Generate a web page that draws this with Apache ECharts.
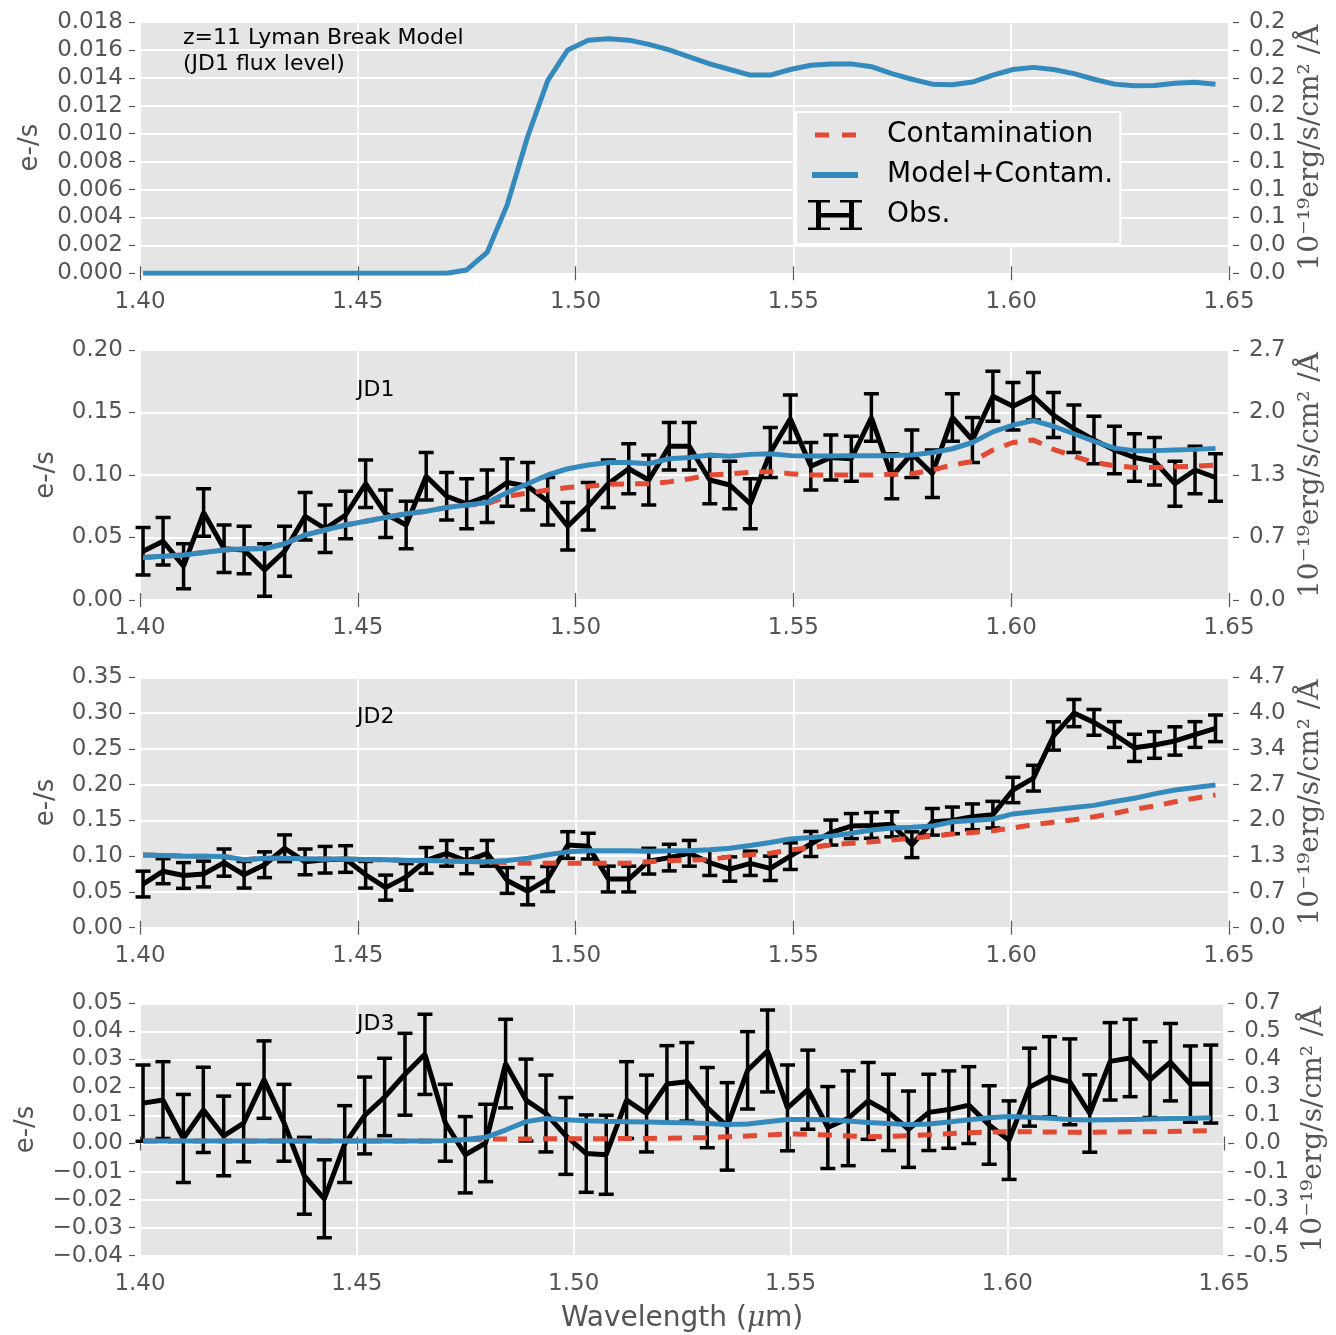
<!DOCTYPE html>
<html>
<head>
<meta charset="utf-8">
<script src="https://cdn.jsdelivr.net/npm/echarts@6/dist/echarts.min.js"></script>
<style>
  html, body { margin: 0; padding: 0; background: #fff; }
  #chart { width: 1336px; height: 1335px; }
</style>
</head>
<body>
<div id="chart"></div>
<script>
// wavelength grid (micron), shared by every panel
var wavelength = [
  1.4007, 1.4053, 1.4100, 1.4146, 1.4193, 1.4239, 1.4286, 1.4332, 1.4379, 1.4425,
  1.4472, 1.4518, 1.4564, 1.4611, 1.4657, 1.4704, 1.4750, 1.4797, 1.4843, 1.4890,
  1.4936, 1.4982, 1.5029, 1.5075, 1.5122, 1.5168, 1.5215, 1.5261, 1.5308, 1.5354,
  1.5401, 1.5447, 1.5493, 1.5540, 1.5586, 1.5633, 1.5679, 1.5726, 1.5772, 1.5819,
  1.5865, 1.5911, 1.5958, 1.6004, 1.6051, 1.6097, 1.6144, 1.6190, 1.6237, 1.6283,
  1.6329, 1.6376, 1.6422, 1.6469
];

// z=11 Lyman break model at JD1 flux level (e-/s)
var lymanModel = [
  0, 0, 0, 0, 0, 0, 0, 0, 0, 0,
  0, 0, 0, 0, 0, 0, 0.00024, 0.0015, 0.0049, 0.0098,
  0.0138, 0.0160, 0.0167, 0.0168, 0.0167, 0.0164, 0.0160, 0.0155, 0.0150, 0.0146,
  0.0142, 0.0142, 0.0146, 0.0149, 0.0150, 0.0150, 0.0148, 0.0143, 0.0139, 0.01355,
  0.0135, 0.0137, 0.0142, 0.0146, 0.01475, 0.0146, 0.0143, 0.0139, 0.01355, 0.01343,
  0.01345, 0.01362, 0.01368, 0.01354
];

// JD1
var jd1Flux = [
  0.039, 0.047, 0.027, 0.070, 0.041, 0.040, 0.024, 0.039, 0.067, 0.057,
  0.068, 0.093, 0.069, 0.060, 0.099, 0.083, 0.077, 0.083, 0.094, 0.091,
  0.079, 0.059, 0.075, 0.093, 0.105, 0.096, 0.123, 0.123, 0.096, 0.092,
  0.077, 0.118, 0.145, 0.107, 0.114, 0.113, 0.146, 0.099, 0.117, 0.101,
  0.146, 0.128, 0.163, 0.155, 0.163, 0.148, 0.137, 0.128, 0.120, 0.114,
  0.111, 0.093, 0.104, 0.098
];
var jd1Err = [
  0.019, 0.019, 0.018, 0.019, 0.019, 0.019, 0.021, 0.020, 0.019, 0.019,
  0.019, 0.019, 0.019, 0.019, 0.019, 0.019, 0.020, 0.021, 0.019, 0.019,
  0.019, 0.019, 0.019, 0.019, 0.020, 0.020, 0.019, 0.019, 0.019, 0.019,
  0.020, 0.020, 0.019, 0.019, 0.018, 0.018, 0.019, 0.018, 0.019, 0.019,
  0.019, 0.018, 0.020, 0.019, 0.019, 0.018, 0.019, 0.019, 0.019, 0.019,
  0.019, 0.018, 0.019, 0.019
];
var jd1Contam = [
  0.034, 0.035, 0.036, 0.038, 0.040, 0.041, 0.041, 0.045, 0.052, 0.056,
  0.060, 0.063, 0.066, 0.069, 0.071, 0.074, 0.076, 0.077, 0.083, 0.0855,
  0.088, 0.090, 0.091, 0.0925, 0.093, 0.093, 0.0945, 0.097, 0.100, 0.101,
  0.102, 0.1027, 0.101, 0.100, 0.100, 0.100, 0.100, 0.1005, 0.101, 0.104,
  0.108, 0.111, 0.120, 0.126, 0.128, 0.1205, 0.115, 0.110, 0.1075, 0.106,
  0.106, 0.1066, 0.107, 0.108
];
var jd1Model = [
  0.034, 0.035, 0.036, 0.038, 0.040, 0.041, 0.041, 0.045, 0.052, 0.056,
  0.060, 0.063, 0.066, 0.069, 0.071, 0.074, 0.076, 0.078, 0.086, 0.093,
  0.100, 0.105, 0.108, 0.110, 0.110, 0.109, 0.113, 0.114, 0.116, 0.115,
  0.1165, 0.117, 0.1155, 0.1152, 0.1152, 0.1155, 0.1155, 0.1155, 0.116, 0.118,
  0.121, 0.126, 0.1345, 0.140, 0.1435, 0.139, 0.133, 0.127, 0.1215, 0.1195,
  0.1195, 0.120, 0.1205, 0.1213
];

// JD2
var jd2Flux = [
  0.061, 0.079, 0.073, 0.075, 0.091, 0.074, 0.088, 0.111, 0.092, 0.095,
  0.096, 0.074, 0.056, 0.071, 0.094, 0.104, 0.093, 0.104, 0.066, 0.051,
  0.068, 0.1156, 0.114, 0.068, 0.068, 0.093, 0.098, 0.104, 0.091, 0.082,
  0.090, 0.083, 0.100, 0.117, 0.133, 0.142, 0.143, 0.1445, 0.116, 0.148,
  0.150, 0.155, 0.158, 0.1925, 0.209, 0.268, 0.300, 0.287, 0.270, 0.2514,
  0.2554, 0.261, 0.270, 0.2787
];
var jd2Err = [
  0.018, 0.0175, 0.018, 0.018, 0.019, 0.0186, 0.018, 0.0187, 0.018, 0.0186,
  0.0186, 0.0186, 0.0175, 0.0186, 0.018, 0.018, 0.0175, 0.018, 0.018, 0.019,
  0.0175, 0.0186, 0.018, 0.018, 0.018, 0.018, 0.0186, 0.018, 0.018, 0.017,
  0.017, 0.017, 0.0186, 0.0175, 0.0175, 0.0175, 0.018, 0.0175, 0.018, 0.0186,
  0.0186, 0.018, 0.0186, 0.0177, 0.018, 0.0198, 0.019, 0.018, 0.018, 0.019,
  0.0186, 0.0198, 0.018, 0.0186
];
var jd2Contam = [
  0.1016, 0.101, 0.100, 0.100, 0.0995, 0.095, 0.097, 0.097, 0.0965, 0.096,
  0.096, 0.0955, 0.095, 0.094, 0.094, 0.0932, 0.0925, 0.0923, 0.091, 0.090,
  0.090, 0.090, 0.090, 0.090, 0.090, 0.0923, 0.0935, 0.0945, 0.0956, 0.099,
  0.102, 0.104, 0.1086, 0.112, 0.1156, 0.118, 0.120, 0.1225, 0.125, 0.128,
  0.131, 0.133, 0.1355, 0.1395, 0.144, 0.1475, 0.151, 0.155, 0.160, 0.1655,
  0.170, 0.176, 0.181, 0.1855
];
var jd2Model = [
  0.1016, 0.101, 0.100, 0.100, 0.0995, 0.095, 0.097, 0.097, 0.0965, 0.096,
  0.096, 0.0955, 0.095, 0.094, 0.094, 0.0932, 0.0925, 0.0923, 0.094, 0.097,
  0.102, 0.106, 0.1077, 0.1077, 0.1077, 0.107, 0.1075, 0.1077, 0.109, 0.111,
  0.115, 0.119, 0.124, 0.126, 0.128, 0.132, 0.1365, 0.1395, 0.1405, 0.142,
  0.148, 0.150, 0.152, 0.159, 0.162, 0.165, 0.168, 0.171, 0.1765, 0.181,
  0.187, 0.1925, 0.196, 0.1995
];

// JD3
var jd3Flux = [
  0.0144, 0.0155, 0.0018, 0.0120, 0.0027, 0.0073, 0.0228, 0.0074, -0.0115, -0.0197,
  -0.0002, 0.0100, 0.0166, 0.0247, 0.0318, 0.0074, -0.0040, 0.0002, 0.0285, 0.0155,
  0.0107, 0.0027, -0.0036, -0.0040, 0.0155, 0.0107, 0.0212, 0.0220, 0.0128, 0.0061,
  0.0261, 0.0330, 0.0127, 0.0192, 0.0057, 0.0090, 0.0152, 0.0111, 0.0051, 0.0111,
  0.0121, 0.0137, 0.0066, 0.0012, 0.0201, 0.0238, 0.0220, 0.0107, 0.0293, 0.0305,
  0.0228, 0.0290, 0.0212, 0.0212
];
var jd3Err = [
  0.0136, 0.0137, 0.0157, 0.0152, 0.0142, 0.0138, 0.0138, 0.0137, 0.0137, 0.0139,
  0.0137, 0.0137, 0.0138, 0.0146, 0.0143, 0.0137, 0.0136, 0.0138, 0.0158, 0.0146,
  0.0137, 0.0137, 0.0138, 0.0141, 0.0137, 0.0137, 0.0137, 0.0140, 0.0143, 0.0156,
  0.0138, 0.0146, 0.0153, 0.0141, 0.0146, 0.0169, 0.0137, 0.0136, 0.0136, 0.0136,
  0.0138, 0.0137, 0.0140, 0.0140, 0.0139, 0.0143, 0.0153, 0.0138, 0.0138, 0.0138,
  0.0135, 0.0138, 0.0136, 0.0139
];
var jd3Contam = [
  0.0009, 0.0009, 0.0009, 0.0009, 0.0009, 0.0009, 0.0009, 0.0009, 0.0009, 0.0009,
  0.0009, 0.0009, 0.0009, 0.0009, 0.0009, 0.0010, 0.0014, 0.0016, 0.0016, 0.0016,
  0.0017, 0.0017, 0.0017, 0.0017, 0.0018, 0.0018, 0.0019, 0.0020, 0.0021, 0.0024,
  0.0027, 0.0030, 0.0034, 0.0033, 0.0030, 0.0027, 0.0024, 0.0025, 0.0028, 0.0031,
  0.0035, 0.0038, 0.0041, 0.0042, 0.0042, 0.0041, 0.0040, 0.0040, 0.0041, 0.0042,
  0.0042, 0.0043, 0.0044, 0.0046
];
var jd3Model = [
  0.0009, 0.0009, 0.0009, 0.0009, 0.0009, 0.0009, 0.0009, 0.0009, 0.0009, 0.0009,
  0.0009, 0.0009, 0.0009, 0.0009, 0.0009, 0.0010, 0.0014, 0.0022, 0.0048, 0.0078,
  0.0089, 0.0085, 0.0081, 0.0079, 0.0078, 0.0077, 0.0075, 0.0074, 0.0071, 0.0068,
  0.0070, 0.0078, 0.0086, 0.0086, 0.0085, 0.0080, 0.0075, 0.0071, 0.0068, 0.0070,
  0.0077, 0.0085, 0.0092, 0.0096, 0.0094, 0.0090, 0.0086, 0.0084, 0.0085, 0.0086,
  0.0087, 0.0089, 0.0090, 0.0092
];

// right-hand axis tick labels (10^-19 erg/s/cm^2/A), bottom to top
var fluxTicks1 = ['0.0', '0.0', '0.1', '0.1', '0.1', '0.1', '0.2', '0.2', '0.2', '0.2'];
var fluxTicks2 = ['0.0', '0.7', '1.3', '2.0', '2.7'];
var fluxTicks3 = ['0.0', '0.7', '1.3', '2.0', '2.7', '3.4', '4.0', '4.7'];
var fluxTicks4 = ['-0.5', '-0.4', '-0.3', '-0.1', '0.0', '0.1', '0.3', '0.4', '0.5', '0.7'];

var panelLabels = ['', 'JD1', 'JD2', 'JD3'];

(function() {
  var gray = '#555555';
  var blue = '#348ABD';
  var red = '#E24A33';
  var panelBg = '#E5E5E5';
  var font = 'DejaVu Sans';

  var panels = [
    { top: 22, height: 251.3, min: 0, max: 0.018, step: 0.002, digits: 3, ticks: fluxTicks1, leftGap: 92, rightGap: 62 },
    { top: 350, height: 250, min: 0, max: 0.20, step: 0.05, digits: 2, ticks: fluxTicks2, leftGap: 76, rightGap: 62 },
    { top: 677.3, height: 250.4, min: 0, max: 0.35, step: 0.05, digits: 2, ticks: fluxTicks3, leftGap: 76, rightGap: 62 },
    { top: 1003.3, height: 252.4, min: -0.04, max: 0.05, step: 0.01, digits: 2, ticks: fluxTicks4, leftGap: 96, rightGap: 69 }
  ];

  function pairs(ys) {
    return wavelength.map(function(x, i) { return [x, ys[i]]; });
  }
  function errRows(ys, es) {
    return wavelength.map(function(x, i) { return [x, ys[i] - es[i], ys[i] + es[i]]; });
  }

  function renderErr(params, api) {
    var x = api.value(0);
    var top = api.coord([x, api.value(2)]);
    var bot = api.coord([x, api.value(1)]);
    var cap = 7.5;
    var st = { stroke: '#000', lineWidth: 3.5, fill: null };
    return {
      type: 'group',
      children: [
        { type: 'line', shape: { x1: top[0], y1: top[1], x2: bot[0], y2: bot[1] }, style: st },
        { type: 'line', shape: { x1: top[0] - cap, y1: top[1], x2: top[0] + cap, y2: top[1] }, style: st },
        { type: 'line', shape: { x1: bot[0] - cap, y1: bot[1], x2: bot[0] + cap, y2: bot[1] }, style: st }
      ]
    };
  }

  var grids = [], xAxes = [], yAxes = [], series = [];

  panels.forEach(function(p, g) {
    grids.push({
      left: 140, right: 107, top: p.top, height: p.height,
      show: true, backgroundColor: panelBg, borderWidth: 0
    });

    var tickStyle = { show: true, length: 7, lineStyle: { color: gray, width: 1.2 } };

    xAxes.push({
      type: 'value', gridIndex: g, position: 'bottom', offset: 2,
      min: 1.40, max: 1.65, interval: 0.05,
      axisLine: { show: false },
      axisTick: tickStyle,
      axisLabel: { color: gray, fontSize: 23, margin: 15, formatter: function(v) { return v.toFixed(2); } },
      splitLine: { show: true, lineStyle: { color: '#fff', width: 1.8 } },
      name: g === 3 ? 'Wavelength ({mu|\u03BC}m)' : '',
      nameLocation: 'middle', nameGap: 47,
      nameTextStyle: {
        color: gray, fontSize: 28,
        rich: { mu: { color: gray, fontSize: 28, fontStyle: 'italic', fontFamily: 'DejaVu Serif' } }
      }
    });
    xAxes.push({
      type: 'value', gridIndex: g, position: 'top', offset: 2,
      min: 1.40, max: 1.65, interval: 0.05,
      axisLine: { show: false },
      axisTick: tickStyle,
      axisLabel: { show: false },
      splitLine: { show: false }
    });

    yAxes.push({
      type: 'value', gridIndex: g, position: 'left', offset: 5,
      min: p.min, max: p.max, interval: p.step,
      axisLine: { show: false },
      axisTick: { show: true, length: 6, lineStyle: { color: gray, width: 1.2 } },
      axisLabel: {
        color: gray, fontSize: 23, margin: 12,
        formatter: function(v) { return (v < -1e-9 ? '\u2212' : '') + Math.abs(v).toFixed(p.digits); }
      },
      splitLine: { show: true, lineStyle: { color: '#fff', width: 1.8 } },
      name: 'e-/s', nameLocation: 'middle', nameGap: p.leftGap,
      nameTextStyle: { color: gray, fontSize: 26 }
    });
    yAxes.push({
      type: 'value', gridIndex: g, position: 'right', offset: 4,
      min: p.min, max: p.max, interval: p.step,
      axisLine: { show: false },
      axisTick: { show: true, length: 6, lineStyle: { color: gray, width: 1.2 } },
      axisLabel: {
        color: gray, fontSize: 23, margin: 16,
        formatter: function(v) { return p.ticks[Math.round((v - p.min) / p.step)]; }
      },
      splitLine: { show: false },
      name: '10\u207B\u00B9\u2079erg/s/cm\u00B2 /\u00C5', nameLocation: 'middle', nameGap: p.rightGap,
      nameTextStyle: { color: gray, fontSize: 28, fontFamily: 'DejaVu Serif' }
    });
  });

  var lineBase = { type: 'line', showSymbol: false, symbol: 'none', silent: true };

  // top panel: model only
  series.push(Object.assign({}, lineBase, {
    name: 'Model+Contam.', xAxisIndex: 0, yAxisIndex: 0,
    data: pairs(lymanModel),
    lineStyle: { color: blue, width: 5 }, itemStyle: { color: blue }
  }));

  var obsSets = [
    { flux: jd1Flux, err: jd1Err, contam: jd1Contam, model: jd1Model },
    { flux: jd2Flux, err: jd2Err, contam: jd2Contam, model: jd2Model },
    { flux: jd3Flux, err: jd3Err, contam: jd3Contam, model: jd3Model }
  ];

  obsSets.forEach(function(d, k) {
    var g = k + 1;
    series.push({
      type: 'custom', name: 'Obs.', xAxisIndex: 2 * g, yAxisIndex: 2 * g,
      data: errRows(d.flux, d.err), renderItem: renderErr,
      encode: { x: 0, y: [1, 2] }, itemStyle: { color: '#000' }, silent: true
    });
    series.push(Object.assign({}, lineBase, {
      name: 'Obs.', xAxisIndex: 2 * g, yAxisIndex: 2 * g,
      data: pairs(d.flux),
      lineStyle: { color: '#000', width: 5 }, itemStyle: { color: '#000' }
    }));
    series.push(Object.assign({}, lineBase, {
      name: 'Contamination', xAxisIndex: 2 * g, yAxisIndex: 2 * g,
      data: pairs(d.contam),
      lineStyle: { color: red, width: 5, type: [14, 11] }, itemStyle: { color: red }
    }));
    series.push(Object.assign({}, lineBase, {
      name: 'Model+Contam.', xAxisIndex: 2 * g, yAxisIndex: 2 * g,
      data: pairs(d.model),
      lineStyle: { color: blue, width: 5 }, itemStyle: { color: blue }
    }));
  });

  var graphics = [{
    type: 'text', left: 183, top: 25, z: 100,
    style: { text: 'z=11 Lyman Break Model\n(JD1 flux level)', fontSize: 22, fontFamily: font, fill: '#000', lineHeight: 26 }
  }];
  var labelTops = [0, 379, 706, 1013];
  panelLabels.forEach(function(t, g) {
    if (!t) return;
    graphics.push({
      type: 'text', left: 357, top: labelTops[g], z: 100,
      style: { text: t, fontSize: 22, fontFamily: font, fill: '#000' }
    });
  });

  var chart = echarts.init(document.getElementById('chart'), null, { renderer: 'canvas' });
  chart.setOption({
    animation: false,
    textStyle: { fontFamily: font },
    grid: grids,
    xAxis: xAxes,
    yAxis: yAxes,
    series: series,
    graphic: graphics,
    legend: {
      orient: 'vertical', left: 796, top: 112,
      padding: [8, 7, 14, 12],
      itemGap: 10, itemWidth: 55, itemHeight: 30,
      backgroundColor: panelBg, borderColor: '#fff', borderWidth: 2,
      selectedMode: false,
      textStyle: { color: '#000', fontSize: 28, fontFamily: font, padding: [0, 0, 0, 19] },
      data: [
        { name: 'Contamination', icon: 'path://M0,0M55,30M7,12.5h14v5h-14zM34,12.5h14v5h-14z', itemStyle: { color: red } },
        { name: 'Model+Contam.', icon: 'path://M0,0M55,30M4,12h46v6h-46z', itemStyle: { color: blue } },
        { name: 'Obs.', icon: 'path://M0,0M55,30M0,0h22v2.5h-22zM8,0h5v30h-5zM0,27.5h22v2.5h-22zM32,0h22v2.5h-22zM41,0h5v30h-5zM32,27.5h22v2.5h-22zM8,13h38v4.5h-38z', itemStyle: { color: '#000' } }
      ]
    }
  });

  window.addEventListener('resize', function() { chart.resize(); });
})();
</script>
</body>
</html>
